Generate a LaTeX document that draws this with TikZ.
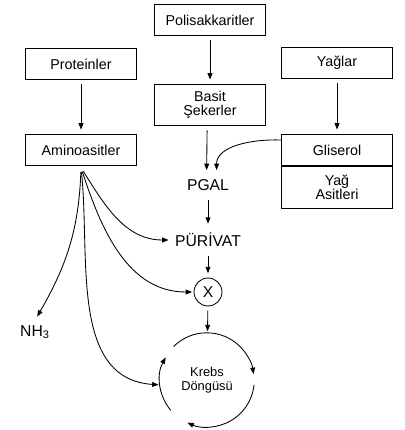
\documentclass[tikz,border=0pt]{standalone}
\usepackage{fontspec}
\setmainfont{Liberation Sans}
\usetikzlibrary{arrows.meta}
\tikzset{
  box/.style      = {draw, line width=0.6pt, minimum width=78pt, minimum height=22pt,
                     inner sep=1pt, align=center, font=\normalsize},
  flow/.style     = {-{Triangle[length=4.5pt,width=3.4pt]}, line width=0.6pt,
                     shorten <=3pt, shorten >=3pt},
  cycle/.style    = {-{Triangle[length=4.5pt,width=3.4pt]}, line width=0.6pt},
  stage/.style    = {font=\fontsize{11}{13}\selectfont},
}

\begin{document}
\begin{tikzpicture}[x=0.7pt,y=-0.7pt]
  \useasboundingbox (0,0) rectangle (404,430);
  % boxes
  \node[box] (poli) at (210,20) {Polisakkaritler};
  \node[box] (prot) at (81,64) {Proteinler};
  \node[box] (yag) at (337,63) {Yağlar};
  \node[box,minimum height=29pt] (basit) at (210,105) {Basit\\[-2pt]Şekerler};
  \node[box] (amino) at (81,150) {Aminoasitler};
  \node[box] (glis) at (337,150) {Gliserol};
  \node[box,minimum height=29pt,anchor=north] (asit) at (glis.south) {Yağ\\[-2pt]Asitleri};
  \draw[line width=1.4pt] (glis.south west) -- (glis.south east);

  % middle chain
  \node[stage] (pgal) at (208,185) {PGAL};
  \node[stage] (puri) at (208,240) {PÜRİVAT};
  \node[stage,draw,circle,line width=0.6pt,minimum size=19.6pt,inner sep=0pt] (x) at (208,292) {X};
  \node[circle,minimum size=65.8pt,align=center,font=\small] (krebs) at (207,380) {Krebs\\[-1pt]Döngüsü};
  \node[stage] (nh3) at (35,332) {NH\textsubscript{3}};

  \draw[flow] (poli) -- (basit);
  \draw[flow] (prot) -- (amino);
  \draw[flow] (yag) -- (glis);
  \draw[flow] ([xshift=-2pt]basit.south) -- ([xshift=-1pt]pgal.north);
  \draw[flow,shorten <=0pt] ([yshift=7pt]glis.west) to[out=178,in=90] ([xshift=6pt]pgal.north);
  \draw[flow] (pgal) -- (puri);
  \draw[flow] (puri) -- (x);
  \draw[flow,shorten >=1pt] (x) -- (krebs);

  % amino acids fan
  \coordinate (fan) at ([yshift=-1pt]amino.south);
  \draw[flow] (fan) to[out=-92,in=60] (nh3.north);
  \draw[flow,shorten >=1pt] (fan) to[out=-84,in=176] (krebs.186);
  \draw[flow,shorten >=1pt] (fan) to[out=-72,in=180] (x.west);
  \draw[flow,shorten >=1pt] (fan) to[out=-58,in=180] (puri.west);

  % Krebs cycle
  \draw[cycle] (krebs.135) arc[start angle=135,end angle=7,radius=32.9pt];
  \draw[cycle] (krebs.-6) arc[start angle=-6,end angle=-115,radius=32.9pt];
  \draw[cycle] (krebs.220) arc[start angle=220,end angle=151,radius=32.9pt];
\end{tikzpicture}
\end{document}
